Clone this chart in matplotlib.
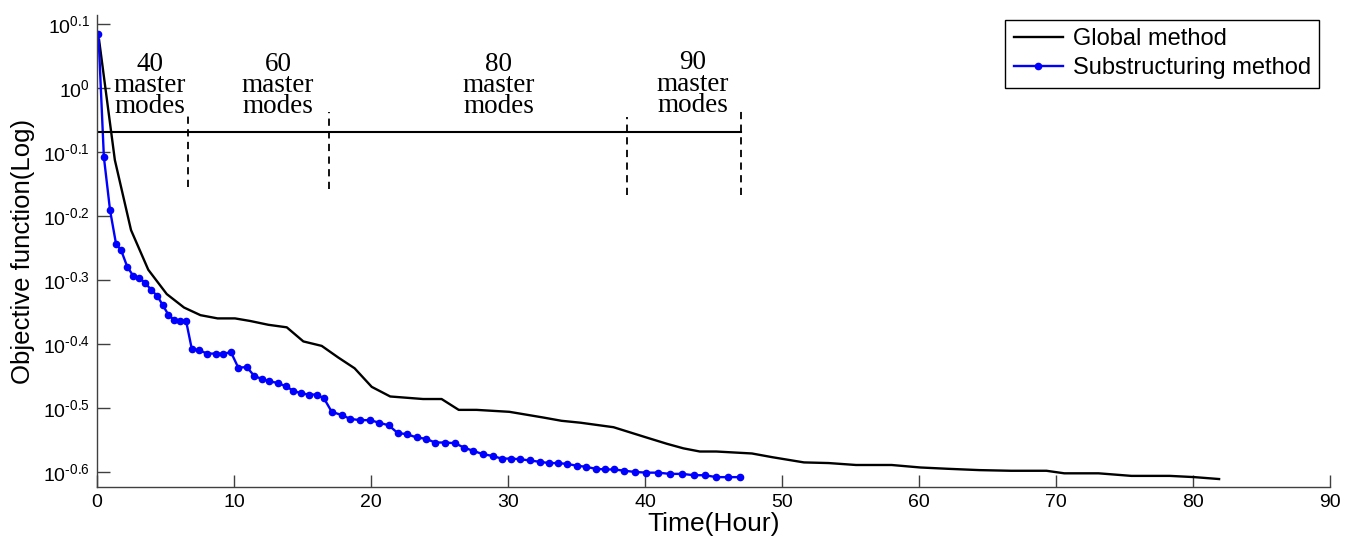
import matplotlib
matplotlib.use("Agg")
import matplotlib.pyplot as plt

plt.rcParams['font.family'] = ['Liberation Sans', 'DejaVu Sans']
plt.rcParams['mathtext.fontset'] = 'custom'
plt.rcParams['mathtext.rm'] = 'Liberation Sans'

# Global method (black line)
global_t = [0.15, 1.3, 2.48, 3.74, 5.09, 6.35, 7.55, 8.8, 10.07, 11.17, 12.5, 13.85,
            15.06, 16.4, 17.6, 18.8, 20.05, 21.4, 23.8, 25.15, 26.4, 27.7, 30.1, 32.6,
            33.9, 35.3, 37.7, 40.1, 41.6, 42.8, 44.0, 45.2, 47.8, 49.3, 51.6, 53.4,
            55.4, 58.0, 60.1, 62.1, 64.4, 66.7, 69.3, 70.6, 73.1, 75.5, 78.3, 80.1, 81.9]
global_obj = [1.1885, 0.7718, 0.5998, 0.5200, 0.4764, 0.4539, 0.4416, 0.4365, 0.4365,
              0.4325, 0.4266, 0.4227, 0.4018, 0.3954, 0.3793, 0.3648, 0.3412, 0.3296,
              0.3266, 0.3266, 0.3141, 0.3141, 0.3119, 0.3055, 0.3020, 0.2999, 0.2951,
              0.2844, 0.2780, 0.2735, 0.2704, 0.2704, 0.2685, 0.2649, 0.2600, 0.2594,
              0.2576, 0.2576, 0.2553, 0.2541, 0.2529, 0.2523, 0.2523, 0.2500, 0.2500,
              0.2477, 0.2477, 0.2466, 0.2449]

# Substructuring method (blue line with dots)
sub_t = [0.1, 0.5, 0.95, 1.39, 1.75, 2.2, 2.65, 3.07, 3.5, 3.97, 4.4, 4.79, 5.2, 5.62,
         6.06, 6.5, 6.91, 7.47, 8.05, 8.66, 9.22, 9.78, 10.31, 10.93, 11.48, 12.07,
         12.58, 13.19, 13.77, 14.33, 14.89, 15.47, 16.03, 16.57, 17.13, 17.86, 18.47,
         19.2, 19.93, 20.6, 21.28, 21.94, 22.64, 23.33, 24.0, 24.67, 25.4, 26.13, 26.79,
         27.47, 28.15, 28.88, 29.53, 30.2, 30.88, 31.6, 32.3, 32.99, 33.67, 34.33, 35.0,
         35.69, 36.4, 37.1, 37.76, 38.5, 39.3, 40.1, 40.96, 41.8, 42.7, 43.56, 44.36,
         45.2, 46.05, 46.9]
sub_obj = [1.2162, 0.7798, 0.6442, 0.5702, 0.5585, 0.5260, 0.5082, 0.5047, 0.4966,
           0.4831, 0.4732, 0.4581, 0.4426, 0.4340, 0.4325, 0.4325, 0.3917, 0.3890,
           0.3846, 0.3846, 0.3846, 0.3864, 0.3656, 0.3664, 0.3548, 0.3508, 0.3483,
           0.3459, 0.3420, 0.3365, 0.3334, 0.3319, 0.3319, 0.3273, 0.3119, 0.3083,
           0.3041, 0.3027, 0.3027, 0.2999, 0.2972, 0.2891, 0.2877, 0.2844, 0.2831,
           0.2793, 0.2793, 0.2786, 0.2742, 0.2710, 0.2679, 0.2661, 0.2636, 0.2636,
           0.2630, 0.2618, 0.2606, 0.2594, 0.2594, 0.2585, 0.2570, 0.2559, 0.2541,
           0.2535, 0.2535, 0.2523, 0.2512, 0.2506, 0.2506, 0.2495, 0.2495, 0.2483,
           0.2483, 0.2466, 0.2466, 0.2466]

# stage annotations
stage_line_y = 0.8545
stage_end = 47.0
bound_x = [6.64, 16.9, 38.7, 47.0]
bound_top = [0.917, 0.917, 0.902, 0.925]
bound_bottom = [0.700, 0.695, 0.681, 0.681]
stage_labels = ['40\nmaster\nmodes', '60\nmaster\nmodes', '80\nmaster\nmodes', '90\nmaster\nmodes']
stage_label_x = [3.87, 13.2, 29.3, 43.5]
stage_label_y = [1.138, 1.138, 1.138, 1.145]

ytick_exp = ['0.1', '0', '-0.1', '-0.2', '-0.3', '-0.4', '-0.5', '-0.6']

fig = plt.figure(figsize=(13.59, 5.52), dpi=100)
ax = fig.add_axes([0.0714, 0.1178, 0.9073, 0.855])

ax.plot(global_t, global_obj, color='black', lw=1.7, label='Global method')
ax.plot(sub_t, sub_obj, color='#0000ff', lw=1.7, marker='o', markersize=4.5,
        label='Substructuring method')

ax.plot([0, stage_end], [stage_line_y, stage_line_y], color='black', lw=1.5)
for bx, bt, bb in zip(bound_x, bound_top, bound_bottom):
    ax.plot([bx, bx], [bb, bt], color='black', lw=1.3, linestyle=(0, (4, 3)))
for lx, ly, txt in zip(stage_label_x, stage_label_y, stage_labels):
    ax.text(lx, ly, txt, ha='center', va='top', fontsize=19.5, linespacing=0.8,
            family='Liberation Serif')

ax.set_yscale('log')
ax.set_xlim(0, 90)
ax.set_ylim(10 ** -0.6234, 10 ** 0.114)
ax.set_xticks(range(0, 91, 10))
ax.set_yticks([10 ** float(e) for e in ytick_exp])
ax.set_yticklabels([r'$\mathregular{10^{\text{%s}}}$' % e for e in ytick_exp])
ax.yaxis.set_minor_locator(matplotlib.ticker.NullLocator())

for s in ['top', 'right']:
    ax.spines[s].set_visible(False)
for s in ['left', 'bottom']:
    ax.spines[s].set_color('#404040')
    ax.spines[s].set_linewidth(1.0)
ax.tick_params(direction='in', length=9, width=1.0, color='#404040',
               labelsize=14, pad=5)

ax.set_xlabel('Time(Hour)', fontsize=19, labelpad=1)
ax.set_ylabel('Objective function(Log)', fontsize=18.5, labelpad=6)

leg = ax.legend(loc='upper right', bbox_to_anchor=(1319 / 1359, 1 - 20 / 552),
                bbox_transform=fig.transFigure, fontsize=17, frameon=True,
                fancybox=False, edgecolor='black', framealpha=1, borderaxespad=0,
                handlelength=2.1, handletextpad=0.4, labelspacing=0.3, borderpad=0.35)
leg.get_frame().set_linewidth(1.0)

fig.savefig('out.png', dpi=100)
